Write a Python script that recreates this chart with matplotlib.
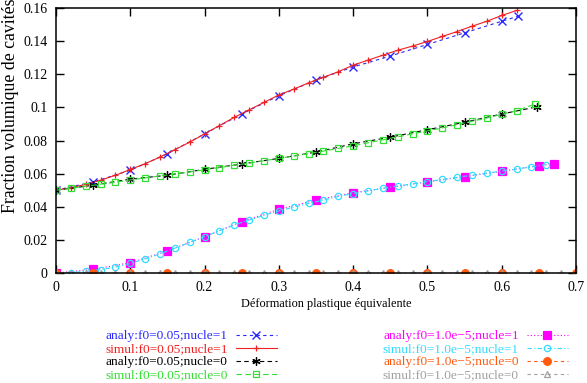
import numpy as np
import matplotlib
matplotlib.use("Agg")
import matplotlib.pyplot as plt
from matplotlib.ticker import FuncFormatter

plt.rcParams['font.family'] = ['Liberation Serif', 'DejaVu Serif']
plt.rcParams['font.size'] = 10

# --- data ---------------------------------------------------------------
x_analy = [0, 0.05, 0.10, 0.15, 0.20, 0.25, 0.30, 0.35, 0.40, 0.45, 0.50, 0.55, 0.60, 0.622]
y_analy_f005_n1 = [0.050, 0.055, 0.062, 0.072, 0.084, 0.096, 0.107, 0.1165, 0.1244, 0.131,
                   0.138, 0.145, 0.152, 0.155]

x_simul_f005_n1 = [0, 0.02, 0.04, 0.06, 0.08, 0.10, 0.12, 0.14, 0.16, 0.18, 0.20, 0.22, 0.24,
                   0.26, 0.28, 0.30, 0.32, 0.34, 0.36, 0.38, 0.40, 0.42, 0.44, 0.46, 0.48,
                   0.50, 0.52, 0.54, 0.56, 0.58, 0.60, 0.62]
y_simul_f005_n1 = [0.050, 0.0515, 0.0535, 0.056, 0.059, 0.0625, 0.066, 0.070, 0.0745, 0.079,
                   0.084, 0.089, 0.094, 0.0985, 0.103, 0.1075, 0.111, 0.1148, 0.1182, 0.1215,
                   0.1255, 0.1285, 0.1315, 0.1345, 0.137, 0.1398, 0.1428, 0.1458, 0.149,
                   0.152, 0.1555, 0.1585]

x_analy_f005_n0 = [0, 0.05, 0.10, 0.15, 0.20, 0.25, 0.30, 0.35, 0.40, 0.45, 0.50, 0.55, 0.60, 0.647]
y_analy_f005_n0 = [0.050, 0.053, 0.0567, 0.059, 0.0626, 0.0658, 0.0692, 0.073, 0.078, 0.082,
                   0.0865, 0.091, 0.096, 0.1003]

x_simul_f005_n0 = [0, 0.02, 0.04, 0.06, 0.08, 0.10, 0.12, 0.14, 0.16, 0.18, 0.20, 0.22, 0.24,
                   0.26, 0.28, 0.30, 0.32, 0.34, 0.36, 0.38, 0.40, 0.42, 0.44, 0.46, 0.48,
                   0.50, 0.52, 0.54, 0.56, 0.58, 0.60, 0.62, 0.645]
y_simul_f005_n0 = [0.050, 0.0512, 0.0524, 0.0536, 0.0548, 0.0562, 0.0574, 0.0586, 0.0598,
                   0.061, 0.0624, 0.0636, 0.065, 0.0664, 0.0678, 0.0692, 0.0706, 0.072,
                   0.0736, 0.0752, 0.0768, 0.0786, 0.0804, 0.0822, 0.084, 0.0858, 0.0876,
                   0.0896, 0.0916, 0.0936, 0.0958, 0.098, 0.102]

x_analy_f1e5_n1 = [0, 0.05, 0.10, 0.15, 0.20, 0.25, 0.30, 0.35, 0.40, 0.45, 0.50, 0.55, 0.60, 0.65, 0.67]
y_analy_f1e5_n1 = [0.0, 0.0022, 0.0062, 0.0133, 0.0219, 0.031, 0.0385, 0.044, 0.0485, 0.0517,
                   0.055, 0.0582, 0.0614, 0.0648, 0.066]

x_simul_f1e5_n1 = [0, 0.02, 0.04, 0.06, 0.08, 0.10, 0.12, 0.14, 0.16, 0.18, 0.20, 0.22, 0.24,
                   0.26, 0.28, 0.30, 0.32, 0.34, 0.36, 0.38, 0.40, 0.42, 0.44, 0.46, 0.48,
                   0.50, 0.52, 0.54, 0.56, 0.58, 0.60, 0.62, 0.64, 0.66]
y_simul_f1e5_n1 = [0.0, 0.0003, 0.001, 0.002, 0.0036, 0.0058, 0.0085, 0.0115, 0.015, 0.0185,
                   0.022, 0.0256, 0.029, 0.032, 0.0348, 0.0375, 0.0398, 0.042, 0.044, 0.0462,
                   0.048, 0.0495, 0.0512, 0.0525, 0.0538, 0.0552, 0.0565, 0.0578, 0.059,
                   0.0603, 0.0615, 0.0628, 0.0641, 0.0655]

x_analy_f1e5_n0 = [0, 0.05, 0.10, 0.15, 0.20, 0.25, 0.30, 0.35, 0.40, 0.45, 0.50, 0.55, 0.60, 0.65, 0.70]
y_analy_f1e5_n0 = [0.0] * len(x_analy_f1e5_n0)

x_simul_f1e5_n0 = [0, 0.02, 0.04, 0.06, 0.08, 0.10, 0.12, 0.14, 0.16, 0.18, 0.20, 0.22, 0.24,
                   0.26, 0.28, 0.30, 0.32, 0.34, 0.36, 0.38, 0.40, 0.42, 0.44, 0.46, 0.48,
                   0.50, 0.52, 0.54, 0.56, 0.58, 0.60, 0.62, 0.64, 0.66, 0.68, 0.70]
y_simul_f1e5_n0 = [0.0] * len(x_simul_f1e5_n0)

labels = ["analy:f0=0.05;nucle=1", "simul:f0=0.05;nucle=1",
          "analy:f0=0.05;nucle=0", "simul:f0=0.05;nucle=0",
          "analy:f0=1.0e\u22125;nucle=1", "simul:f0=1.0e\u22125;nucle=1",
          "analy:f0=1.0e\u22125;nucle=0", "simul:f0=1.0e\u22125;nucle=0"]

x_ticks = [0, 0.1, 0.2, 0.3, 0.4, 0.5, 0.6, 0.7]
y_ticks = [0, 0.02, 0.04, 0.06, 0.08, 0.10, 0.12, 0.14, 0.16]

# --- figure --------------------------------------------------------------
fig = plt.figure(figsize=(5.87, 3.83), dpi=100)
ax = fig.add_axes([56/587, 1 - 273/383, 520/587, 265/383])

c_blue = '#2a2aff'
c_red = '#f02020'
c_black = '#000000'
c_green = '#33dd33'
c_mag = '#ff00ff'
c_cyan = '#33ddff'
c_orange = '#ff5a10'
c_gray = '#a0a0a0'

h = []
h += ax.plot(x_analy, y_analy_f005_n1, color=c_blue, lw=0.8, ls=(0, (3, 3)),
             marker='x', ms=6, mew=1.0, label=labels[0])
h += ax.plot(x_simul_f005_n1, y_simul_f005_n1, color=c_red, lw=0.8, ls='-',
             marker='+', ms=4, mew=0.9, label=labels[1])
h += ax.plot(x_analy_f005_n0, y_analy_f005_n0, color=c_black, lw=0.8, ls=(0, (4, 3)),
             marker=(6, 2, 0), ms=6, mew=0.9, label=labels[2])
h += ax.plot(x_simul_f005_n0, y_simul_f005_n0, color=c_green, lw=0.8, ls=(0, (5, 3)),
             marker='s', ms=4.5, mew=0.9, mfc='none', label=labels[3])
h += ax.plot(x_analy_f1e5_n1, y_analy_f1e5_n1, color=c_mag, lw=0.8, ls=(0, (1, 2)),
             marker='s', ms=6, mew=0.9, label=labels[4])
h += ax.plot(x_simul_f1e5_n1, y_simul_f1e5_n1, color=c_cyan, lw=0.8, ls=(0, (4, 2, 1, 2)),
             marker='o', ms=4.5, mew=0.9, mfc='none', label=labels[5])
h += ax.plot(x_analy_f1e5_n0, y_analy_f1e5_n0, color=c_orange, lw=0.8, ls=(0, (3, 3)),
             marker='o', ms=5.5, mew=0.9, label=labels[6])
h += ax.plot(x_simul_f1e5_n0, y_simul_f1e5_n0, color=c_gray, lw=0.8, ls=(0, (3, 3)),
             marker='^', ms=4, mew=0.9, mfc='none', label=labels[7])

ax.set_xlim(0, 0.7)
ax.set_ylim(0, 0.16)
ax.set_xticks(x_ticks)
ax.set_yticks(y_ticks)
fmt = FuncFormatter(lambda v, p: '%g' % round(v, 4))
ax.xaxis.set_major_formatter(fmt)
ax.yaxis.set_major_formatter(fmt)
ax.tick_params(direction='in', length=6, width=1, top=True, right=True,
               labelsize=10, pad=6, colors='black')
for s in ax.spines.values():
    s.set_linewidth(1.1)

fig.text(326/587, 1 - 304/383, "Déformation plastique équivalente",
         ha='center', va='center', fontsize=8.8)
fig.text(11/587, 1 - 213/383, "Fraction volumique de cavités",
         rotation=90, ha='center', va='bottom', fontsize=12.8)

leg_kw = dict(frameon=False, markerfirst=False, labelcolor='linecolor',
              handlelength=3.1, handletextpad=0.6, labelspacing=0.05,
              fontsize=9.6, numpoints=1, borderpad=0, borderaxespad=0)
fig.legend(h[:4], labels[:4], loc='upper right',
           bbox_to_anchor=(277/587, 1 - 330/383), **leg_kw)
fig.legend(h[4:], labels[4:], loc='upper right',
           bbox_to_anchor=(568/587, 1 - 330/383), **leg_kw)

fig.savefig('out.png', dpi=100)
